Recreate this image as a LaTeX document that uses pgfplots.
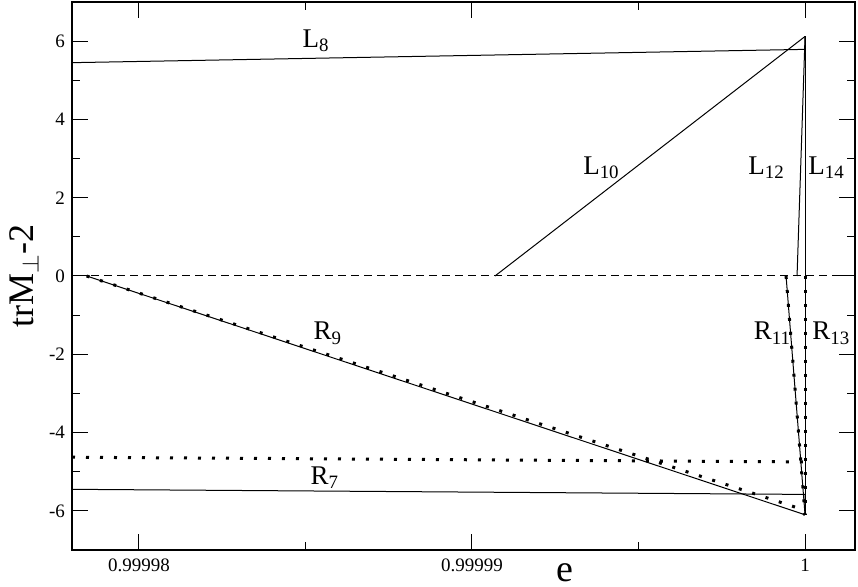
\documentclass[border=0pt]{standalone}
\usepackage{pgfplots}
\pgfplotsset{compat=1.18}
\usepackage{fontspec}
\setmainfont{Liberation Serif}
\tikzset{
  lbl/.style={font=\fontsize{13.5}{15}\selectfont, anchor=base west, inner sep=0pt},
  plain/.style={black, line width=0.5pt, mark=none, solid},
  dotstyle/.style={black, mark=none, line width=1.5pt, line cap=butt, dash pattern=on 1.5pt off 5.5pt},
}
\begin{document}
\begin{tikzpicture}
\useasboundingbox (-36pt,-18.5pt) rectangle (393pt,275pt);
\begin{axis}[
  scale only axis, width=391.5pt, height=274pt,
  at={(0,0)}, anchor=south west,
  xmin=-2.201, xmax=0.150, ymin=-7, ymax=7,
  xtick={-2,-1,0}, xticklabels={0.99998,0.99999,1},
  ytick={-6,-4,-2,0,2,4,6}, yticklabels={-6,-4,-2,0,2,4,6},
  minor x tick num=1, minor y tick num=1,
  tick align=inside, major tick length=8pt, minor tick length=4pt,
  every tick/.style={black, line width=0.5pt},
  axis line style={line width=0.6pt},
  tick label style={font=\fontsize{9.5}{11}\selectfont},
  xticklabel style={yshift=-1pt},
  /pgf/number format/assume math mode=true,
  xlabel={e}, ylabel={trM\textsubscript{$\perp$}-2},
  xlabel style={font=\fontsize{19}{21}\selectfont, at={(axis description cs:0.63,-0.041)}, anchor=center},
  ylabel style={font=\fontsize{18}{20}\selectfont, at={(axis description cs:-0.061,0.5)}, anchor=center},
  clip=true,
]
% zero line
\addplot[plain, dash pattern=on 4pt off 2.5pt] coordinates {(-2.3,0) (0.2,0)};
% L lines
\addplot[plain] coordinates {(-2.201,5.45) (0,5.79) (0,6.12)};
\addplot[plain] coordinates {(-0.931,0) (0,6.12)};
\addplot[plain] coordinates {(-0.024,0) (0,6.12)};
\addplot[plain] coordinates {(0,0) (0,6.12)};
% R lines solid
\addplot[plain] coordinates {(-2.157,0) (0,-6.1)};
\addplot[plain] coordinates {(-2.201,-5.45) (0,-5.58) (0,-6.1)};
\addplot[plain] coordinates {(-0.057,0) (0,-6.1)};
\addplot[plain] coordinates {(0,0) (0,-6.1)};
% dotted
\addplot[dotstyle] coordinates {(-2.157,0) (-0.02,-5.93) (0,-6.1)};
\addplot[dotstyle] coordinates {(-2.201,-4.63) (0,-4.75)};
\addplot[dotstyle] coordinates {(-0.057,0) (0,-6.1)};
\addplot[dotstyle] coordinates {(0,0) (0,-6.1)};
% labels
\node[lbl] at (axis cs:-1.51,5.84) {L\textsubscript{8}};
\node[lbl] at (axis cs:-0.667,2.59) {L\textsubscript{10}};
\node[lbl] at (axis cs:-0.171,2.59) {L\textsubscript{12}};
\node[lbl] at (axis cs:0.009,2.59) {L\textsubscript{14}};
\node[lbl] at (axis cs:-1.477,-1.63) {R\textsubscript{9}};
\node[lbl] at (axis cs:-0.155,-1.63) {R\textsubscript{11}};
\node[lbl] at (axis cs:0.021,-1.63) {R\textsubscript{13}};
\node[lbl] at (axis cs:-1.486,-5.32) {R\textsubscript{7}};
\end{axis}
\end{tikzpicture}
\end{document}
